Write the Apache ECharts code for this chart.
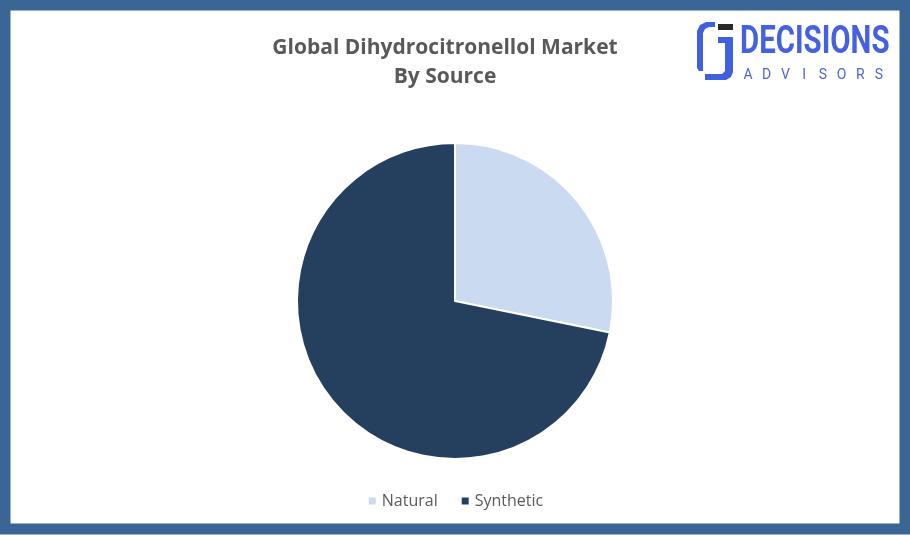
<!DOCTYPE html>
<html><head><meta charset="utf-8">
<script src="https://cdn.jsdelivr.net/npm/echarts@6/dist/echarts.min.js"></script>
<style>html,body{margin:0;padding:0;background:#fff}#c{width:910px;height:535px}</style>
</head><body><div id="c"></div>
<script>
const categories = ['Natural', 'Synthetic'];
const values = [28.2, 71.8];
const colors = ['#c9daf1', '#253f5f'];
const titleLines = ['Global Dihydrocitronellol Market', 'By Source'];
const logoSub = ['A', 'D', 'V', 'I', 'S', 'O', 'R', 'S'];

const chart = echarts.init(document.getElementById('c'));
const graphics = [
  {type: 'rect', shape: {x: 5, y: 5, width: 900, height: 524}, style: {fill: 'none', stroke: '#3a6594', lineWidth: 11}, silent: true},
  {type: 'polygon', shape: {points: [[715,22],[706,22],[700,25],[697,31],[697,68],[699,71],[703,71],[703,33],[705,29],[709,27],[715,27]]}, style: {fill: '#4060e0'}},
  {type: 'polygon', shape: {points: [[718,37],[733,37],[733,72],[731,77],[726,80],[705,80],[705,74],[722,74],[725,71],[725,43],[718,43]]}, style: {fill: '#4060e0'}},
  {type: 'rect', shape: {x: 718, y: 24, width: 15, height: 6}, style: {fill: '#2a2a2a'}},
  {type: 'text', x: 740, y: 43, originX: 0, originY: 0, scaleX: 0.755, style: {text: 'DECISIONS', fontFamily: 'Roboto', fontWeight: 'bold', fontSize: 39, fill: '#4561e0', textVerticalAlign: 'middle'}}
];
logoSub.forEach((ch, i) => graphics.push({
  type: 'text', x: 748 + i * 18.7, y: 75,
  style: {text: ch, fontFamily: 'Roboto', fontSize: 14, fill: '#4d66d2', textAlign: 'center', textVerticalAlign: 'middle'}
}));

chart.setOption({
  animation: false,
  backgroundColor: '#ffffff',
  title: {
    text: titleLines.join('\n'),
    left: 440, top: 29, textAlign: 'center',
    textStyle: {fontFamily: 'Open Sans', fontSize: 21, fontWeight: 'bold', color: '#595959', lineHeight: 29}
  },
  legend: {
    data: categories, bottom: 21, left: 'center', itemWidth: 9, itemHeight: 9, itemGap: 22, icon: 'rect',
    textStyle: {fontFamily: 'Open Sans', fontSize: 16, color: '#595959'}
  },
  series: [{
    type: 'pie', center: [455, 301], radius: 158, startAngle: 90, clockwise: true,
    label: {show: false}, labelLine: {show: false},
    itemStyle: {borderColor: '#fff', borderWidth: 2},
    data: categories.map((n, i) => ({name: n, value: values[i], itemStyle: {color: colors[i]}}))
  }],
  graphic: graphics
});
</script></body></html>
